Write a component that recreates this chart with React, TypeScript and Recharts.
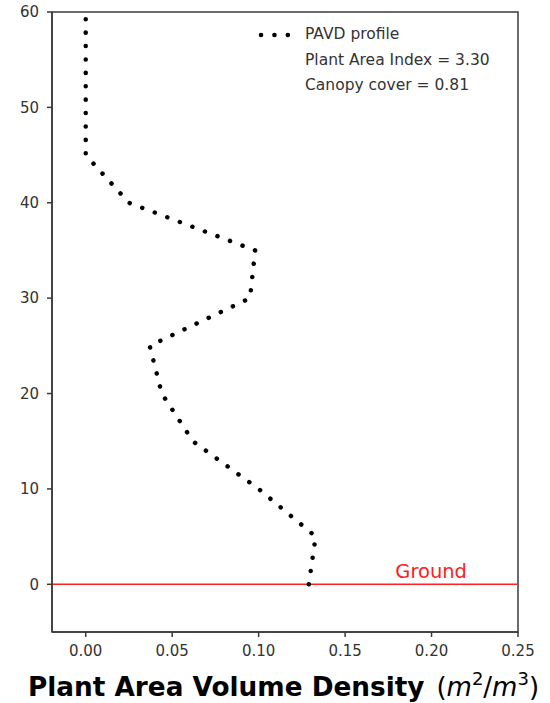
import { LineChart, Line, XAxis, YAxis, ReferenceLine, ReferenceArea } from "recharts";

const heights = [0, 5, 10, 15, 20, 25, 30, 35, 40, 45, 50, 55, 60];
const pavd = [0.129, 0.133, 0.1, 0.062, 0.044, 0.037, 0.095, 0.098, 0.025, 0.0, 0.0, 0.0, 0.0];
const xTicks = [0, 0.05, 0.1, 0.15, 0.2, 0.25];
const yTicks = [0, 10, 20, 30, 40, 50, 60];
const legendLines = ["PAVD profile", "Plant Area Index = 3.30", "Canopy cover = 0.81"];

const data = heights.map((h, i) => ({ height: h, pavd: pavd[i] }));

const FONT = "'DejaVu Sans', sans-serif";
const AXIS = "#3a3a3a";
const tickStyle = { fontSize: 15, fill: "#333", fontFamily: FONT };

function AxisTitle() {
  return (
    <text x={28} y={696} fontFamily={FONT} fill="#000">
      <tspan fontSize={26.3} fontWeight="bold">Plant Area Volume Density</tspan>
      <tspan fontSize={26} dx={12}>(</tspan>
      <tspan fontSize={26} fontStyle="italic">m</tspan>
      <tspan fontSize={18} dy={-11}>2</tspan>
      <tspan fontSize={26} dy={11}>/</tspan>
      <tspan fontSize={26} fontStyle="italic">m</tspan>
      <tspan fontSize={18} dy={-11}>3</tspan>
      <tspan fontSize={26} dy={11}>)</tspan>
    </text>
  );
}

function LegendBox() {
  return (
    <div
      style={{
        position: "absolute",
        left: 255,
        top: 22,
        width: 260,
        fontFamily: FONT,
        fontSize: 15.5,
        color: "#333",
        lineHeight: "25.5px",
      }}
    >
      <svg width={40} height={20} style={{ position: "absolute", left: 0, top: 3 }}>
        <line x1={6} y1={10} x2={34} y2={10} stroke="#000" strokeWidth={4.5} strokeLinecap="round" strokeDasharray="0.1 13.3" />
      </svg>
      <div style={{ marginLeft: 50 }}>
        {legendLines.map((t) => (
          <div key={t}>{t}</div>
        ))}
      </div>
    </div>
  );
}

export default function App() {
  return (
    <div style={{ position: "absolute", left: 0, top: 0, width: 550, height: 703, background: "#fff" }}>
      <LineChart
        width={550}
        height={703}
        data={data}
        layout="vertical"
        margin={{ top: 12, right: 32, left: 0, bottom: 0 }}
      >
        <XAxis
          type="number"
          dataKey="pavd"
          domain={[-0.0195, 0.25]}
          allowDataOverflow
          ticks={xTicks}
          tickFormatter={(v: number) => v.toFixed(2)}
          height={71}
          tick={tickStyle}
          tickSize={5}
          tickMargin={8}
          tickLine={{ stroke: AXIS, strokeWidth: 1.5 }}
          axisLine={{ stroke: AXIS, strokeWidth: 1.5 }}
          label={{ content: () => <AxisTitle /> }}
        />
        <YAxis
          type="number"
          dataKey="height"
          domain={[-5, 60]}
          allowDataOverflow
          reversed
          ticks={yTicks}
          width={52}
          tick={tickStyle}
          tickSize={5}
          tickMargin={8}
          tickLine={{ stroke: AXIS, strokeWidth: 1.5 }}
          axisLine={{ stroke: AXIS, strokeWidth: 1.5 }}
        />
        <ReferenceArea
          x1={-0.0195}
          x2={0.25}
          y1={-5}
          y2={60}
          fill="none"
          stroke={AXIS}
          strokeWidth={1.5}
          ifOverflow="visible"
        />
        <ReferenceLine
          y={0}
          stroke="#ff2020"
          strokeWidth={1.5}
          label={{ value: "Ground", position: "insideBottomRight", fill: "#ff2020", fontSize: 19.5, fontFamily: FONT, dx: -46, dy: -1 }}
        />
        <Line
          dataKey="pavd"
          stroke="#000"
          strokeWidth={4.5}
          strokeLinecap="round"
          strokeDasharray="0.1 13.3"
          dot={false}
          isAnimationActive={false}
        />
      </LineChart>
      <LegendBox />
    </div>
  );
}
